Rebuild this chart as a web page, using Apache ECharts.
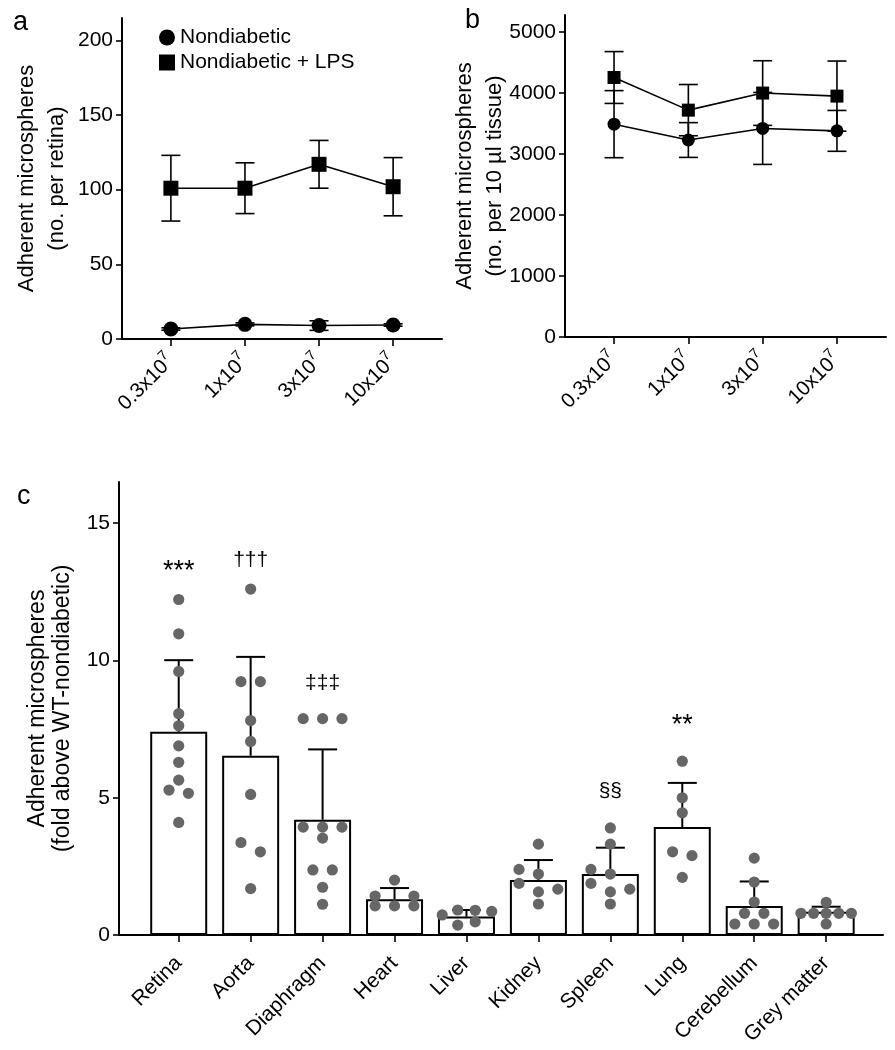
<!DOCTYPE html>
<html><head><meta charset="utf-8">
<script src="https://cdn.jsdelivr.net/npm/echarts@6/dist/echarts.min.js"></script>
<style>html,body{margin:0;padding:0;background:#fff}#c{width:895px;height:1050px}</style>
</head><body><div id="c"></div>
<script>
// ---------- data ----------
const doseLabels = ['0.3', '1', '3', '10'];          // x10^7 microspheres
const seriesNames = ['Nondiabetic', 'Nondiabetic + LPS'];
// panel a: retina (no. per retina)
const aNdMean  = [6.7, 9.8, 9.0, 9.4];
const aNdSd    = [0.8, 1.0, 3.2, 0.8];
const aLpsMean = [101, 101, 117, 102];
const aLpsSd   = [22, 17, 16, 19.5];
// panel b: no. per 10 µl tissue
const bNdMean  = [3490, 3230, 3420, 3380];
const bNdSd    = [550, 285, 590, 335];
const bLpsMean = [4255, 3720, 4000, 3950];
const bLpsSd   = [425, 420, 530, 575];
const aYTicks = [0, 50, 100, 150, 200];
const bYTicks = [0, 1000, 2000, 3000, 4000, 5000];
const cYTicks = [0, 5, 10, 15];
// panel c: fold above WT-nondiabetic
const organs = ['Retina', 'Aorta', 'Diaphragm', 'Heart', 'Liver', 'Kidney', 'Spleen', 'Lung', 'Cerebellum', 'Grey matter'];
const organMean = [7.40, 6.53, 4.20, 1.30, 0.67, 2.00, 2.22, 3.93, 1.06, 0.85];
const organSd   = [2.61, 3.60, 2.56, 0.41, 0.24, 0.73, 0.96, 1.61, 0.89, 0.18];
// individual points per organ: values and swarm column (slot)
const retinaPts = [12.22, 10.97, 9.60, 8.06, 7.62, 6.89, 6.29, 5.64, 5.28, 5.16, 4.10];
const retinaSlot = [0, 0, 0, 0, 0, 0, 0, 0, -1, 1, 0];
const aortaPts = [12.60, 9.23, 9.23, 7.81, 7.05, 5.12, 3.37, 3.03, 1.69];
const aortaSlot = [0, -1, 1, 0, 0, 0, -1, 1, 0];
const diaphragmPts = [7.88, 7.88, 7.88, 3.93, 3.93, 3.93, 3.53, 2.37, 2.37, 1.74, 1.12];
const diaphragmSlot = [-2, 0, 2, -2, 0, 2, 0, -1, 1, 0, 0];
const heartPts = [2.00, 1.42, 1.42, 1.06, 1.06, 1.06];
const heartSlot = [0, -2, 2, -2, 0, 2];
const liverPts = [0.91, 0.90, 0.73, 0.86, 0.36, 0.48];
const liverSlot = [-0.9, 0.9, -2.5, 2.6, -0.9, 0.9];
const kidneyPts = [3.31, 2.39, 2.22, 1.88, 1.67, 1.57, 1.13];
const kidneySlot = [0, -2, 0, -2, 2, 0, 0];
const spleenPts = [3.90, 3.31, 2.39, 2.22, 1.88, 1.67, 1.57, 1.13];
const spleenSlot = [0, 0, -2, 0, -2, 2, 0, 0];
const lungPts = [6.33, 5.00, 4.45, 3.03, 2.89, 2.10];
const lungSlot = [0, 0, 0, -1, 1, 0];
const cerebellumPts = [2.80, 1.93, 1.20, 0.79, 0.79, 0.40, 0.40, 0.40];
const cerebellumSlot = [0, 0, 0, -1, 1, -2, 0, 2];
const greyPts = [1.19, 0.79, 0.79, 0.79, 0.79, 0.79, 0.40];
const greySlot = [0, -2.6, -1.3, 0, 1.3, 2.6, 0];
// significance marks
const sigOrganIdx = [0, 1, 2, 6, 7];
const sigText = ['***', '†††', '‡‡‡', '§§', '**'];
const sigY = [13.23, 13.65, 9.17, 5.22, 7.64];

// ---------- build ----------
const FONT = '"Liberation Sans", Arial, Helvetica, sans-serif';
const allPts = [retinaPts, aortaPts, diaphragmPts, heartPts, liverPts, kidneyPts, spleenPts, lungPts, cerebellumPts, greyPts];
const allSlots = [retinaSlot, aortaSlot, diaphragmSlot, heartSlot, liverSlot, kidneySlot, spleenSlot, lungSlot, cerebellumSlot, greySlot];
const dotData = [];
allPts.forEach((arr, i) => arr.forEach((v, j) => dotData.push([i, v, allSlots[i][j]])));

const idx = doseLabels.map((d, i) => i);
const pairs = (m) => m.map((v, i) => [i, v]);
const errs = (m, s) => m.map((v, i) => [i, v - s[i], v + s[i]]);

const lineStyle = { stroke: '#000', lineWidth: 1.6, fill: null };
function errRender(capHalf) {
  return function (params, api) {
    const x = api.value(0), lo = api.value(1), hi = api.value(2);
    const p1 = api.coord([x, lo]), p2 = api.coord([x, hi]);
    return { type: 'group', children: [
      { type: 'line', shape: { x1: p1[0], y1: p1[1], x2: p2[0], y2: p2[1] }, style: lineStyle },
      { type: 'line', shape: { x1: p1[0] - capHalf, y1: p1[1], x2: p1[0] + capHalf, y2: p1[1] }, style: lineStyle },
      { type: 'line', shape: { x1: p2[0] - capHalf, y1: p2[1], x2: p2[0] + capHalf, y2: p2[1] }, style: lineStyle }
    ]};
  };
}
function upErrRender(params, api) {
  const x = api.value(0), m = api.value(1), s = api.value(2);
  const p1 = api.coord([x, m]), p2 = api.coord([x, m + s]);
  return { type: 'group', children: [
    { type: 'line', shape: { x1: p1[0], y1: p1[1], x2: p2[0], y2: p2[1] }, style: { stroke: '#000', lineWidth: 2 } },
    { type: 'line', shape: { x1: p2[0] - 14.5, y1: p2[1], x2: p2[0] + 14.5, y2: p2[1] }, style: { stroke: '#000', lineWidth: 2 } }
  ]};
}
function dotRender(params, api) {
  const c = api.coord([api.value(0), api.value(1)]);
  return { type: 'circle', shape: { cx: c[0] + api.value(2) * 9.7, cy: c[1], r: 5.6 }, style: { fill: '#666666' } };
}
function sigRender(params, api) {
  const c = api.coord([api.value(0), api.value(1)]);
  const t = sigText[params.dataIndex];
  const fs = t.indexOf('*') >= 0 ? 27 : 21;
  return { type: 'text', x: c[0], y: c[1], style: { text: t, fontSize: fs, fontFamily: FONT, fill: '#000', align: 'center', verticalAlign: 'middle' } };
}

const axisLine = { show: true, onZero: false, lineStyle: { color: '#000', width: 2 } };
const axisTick = (vals, len) => ({ show: true, length: len, lineStyle: { color: '#000', width: 1.6 }, customValues: vals });
const yLabel = (vals) => ({ color: '#000', fontSize: 21, fontFamily: FONT, margin: 9, customValues: vals, formatter: (v) => String(v) });
const doseLabel = {
  color: '#000', rotate: 45, margin: 19, customValues: idx,
  formatter: (v) => '{b|' + doseLabels[Math.round(v)] + 'x10}{s|7}',
  rich: { b: { fontSize: 20.5, fontFamily: FONT, color: '#000', lineHeight: 28 },
          s: { fontSize: 14, fontFamily: FONT, color: '#000', verticalAlign: 'top', lineHeight: 15 } }
};
const nameStyle = (fs, lh) => ({ fontSize: fs, lineHeight: lh, color: '#000', fontFamily: FONT });

const option = {
  backgroundColor: '#fff',
  animation: false,
  textStyle: { fontFamily: FONT },
  title: [
    { text: 'a', left: 8, top: 4, textStyle: { fontSize: 27, fontWeight: 'normal', color: '#000', fontFamily: FONT } },
    { text: 'b', left: 460, top: 2, textStyle: { fontSize: 27, fontWeight: 'normal', color: '#000', fontFamily: FONT } },
    { text: 'c', left: 12, top: 478, textStyle: { fontSize: 27, fontWeight: 'normal', color: '#000', fontFamily: FONT } }
  ],
  legend: {
    orient: 'vertical', left: 154, top: 22, itemGap: 4, itemWidth: 16, itemHeight: 16,
    textStyle: { fontSize: 21, color: '#000', fontFamily: FONT },
    data: [{ name: seriesNames[0], icon: 'circle' }, { name: seriesNames[1], icon: 'rect' }]
  },
  grid: [
    { left: 122, top: 18, width: 320, height: 321 },
    { left: 565, top: 15, width: 321, height: 322 },
    { left: 119, top: 482, width: 764, height: 453 }
  ],
  xAxis: [
    { type: 'value', gridIndex: 0, min: -0.66, max: 3.66, splitLine: { show: false }, axisLine, axisTick: axisTick(idx, 7), axisLabel: doseLabel },
    { type: 'value', gridIndex: 1, min: -0.66, max: 3.66, splitLine: { show: false }, axisLine, axisTick: axisTick(idx, 7), axisLabel: doseLabel },
    { type: 'value', gridIndex: 2, min: -0.83, max: 9.79, splitLine: { show: false }, axisLine, axisTick: axisTick(organs.map((o, i) => i), 7),
      axisLabel: { customValues: organs.map((o, i) => i), formatter: (v) => organs[Math.round(v)], rotate: 45, margin: 25, color: '#000', fontSize: 21, fontFamily: FONT } }
  ],
  yAxis: [
    { type: 'value', gridIndex: 0, min: 0, max: 215, splitLine: { show: false }, axisLine, axisTick: axisTick(aYTicks, 6), axisLabel: yLabel(aYTicks),
      name: 'Adherent microspheres\n(no. per retina)', nameLocation: 'middle', nameGap: 50, nameRotate: 90, nameMoveOverlap: false, nameTextStyle: nameStyle(22, 30) },
    { type: 'value', gridIndex: 1, min: 0, max: 5280, splitLine: { show: false }, axisLine, axisTick: axisTick(bYTicks, 6), axisLabel: yLabel(bYTicks),
      name: 'Adherent microspheres\n(no. per 10 µl tissue)', nameLocation: 'middle', nameGap: 55, nameRotate: 90, nameMoveOverlap: false, nameTextStyle: nameStyle(22, 30) },
    { type: 'value', gridIndex: 2, min: 0, max: 16.5, splitLine: { show: false }, axisLine, axisTick: axisTick(cYTicks, 6), axisLabel: yLabel(cYTicks),
      name: 'Adherent microspheres\n(fold above WT-nondiabetic)', nameLocation: 'middle', nameGap: 44, nameRotate: 90, nameMoveOverlap: false, nameTextStyle: nameStyle(23, 25) }
  ],
  series: [
    { type: 'custom', xAxisIndex: 0, yAxisIndex: 0, renderItem: errRender(9.5), data: errs(aNdMean, aNdSd), z: 1 },
    { type: 'custom', xAxisIndex: 0, yAxisIndex: 0, renderItem: errRender(9.5), data: errs(aLpsMean, aLpsSd), z: 1 },
    { type: 'line', name: seriesNames[0], xAxisIndex: 0, yAxisIndex: 0, data: pairs(aNdMean), symbol: 'circle', symbolSize: 15,
      itemStyle: { color: '#000' }, lineStyle: { color: '#000', width: 1.6 }, z: 3 },
    { type: 'line', name: seriesNames[1], xAxisIndex: 0, yAxisIndex: 0, data: pairs(aLpsMean), symbol: 'rect', symbolSize: 15,
      itemStyle: { color: '#000' }, lineStyle: { color: '#000', width: 1.6 }, z: 3 },
    { type: 'custom', xAxisIndex: 1, yAxisIndex: 1, renderItem: errRender(9.5), data: errs(bNdMean, bNdSd), z: 1 },
    { type: 'custom', xAxisIndex: 1, yAxisIndex: 1, renderItem: errRender(9.5), data: errs(bLpsMean, bLpsSd), z: 1 },
    { type: 'line', name: seriesNames[0], xAxisIndex: 1, yAxisIndex: 1, data: pairs(bNdMean), symbol: 'circle', symbolSize: 13,
      itemStyle: { color: '#000' }, lineStyle: { color: '#000', width: 1.6 }, z: 3 },
    { type: 'line', name: seriesNames[1], xAxisIndex: 1, yAxisIndex: 1, data: pairs(bLpsMean), symbol: 'rect', symbolSize: 13,
      itemStyle: { color: '#000' }, lineStyle: { color: '#000', width: 1.6 }, z: 3 },
    { type: 'bar', xAxisIndex: 2, yAxisIndex: 2, data: organMean.map((v, i) => [i, v]), barWidth: 57,
      itemStyle: { color: '#fff', borderColor: '#000', borderWidth: 2 }, z: 1 },
    { type: 'custom', xAxisIndex: 2, yAxisIndex: 2, renderItem: upErrRender, data: organMean.map((v, i) => [i, v, organSd[i]]), z: 2 },
    { type: 'custom', xAxisIndex: 2, yAxisIndex: 2, renderItem: dotRender, data: dotData, z: 3 },
    { type: 'custom', xAxisIndex: 2, yAxisIndex: 2, renderItem: sigRender, data: sigOrganIdx.map((k, i) => [k, sigY[i]]), z: 4 }
  ]
};
const chart = echarts.init(document.getElementById('c'), null, { renderer: 'canvas' });
chart.setOption(option);
</script>
</body></html>
